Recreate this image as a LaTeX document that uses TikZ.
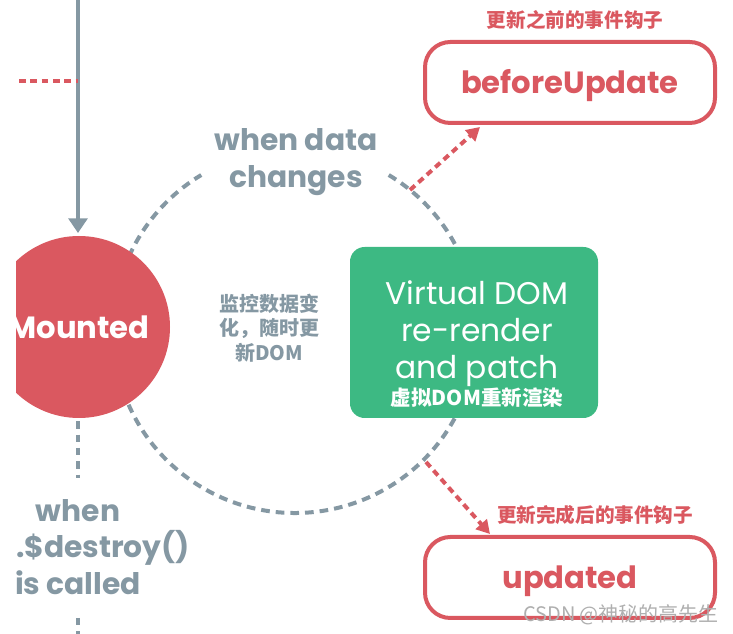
\documentclass[tikz,border=0pt]{standalone}
\usepackage{fontspec}
\setmainfont{Poppins}
\newfontfamily\cjk{Noto Sans CJK SC}
\usetikzlibrary{arrows.meta}
\definecolor{vred}{RGB}{218,88,96}
\definecolor{vgreen}{RGB}{61,185,131}
\definecolor{vgray}{RGB}{133,152,163}
\definecolor{wmark}{RGB}{175,175,175}
\begin{document}
\begin{tikzpicture}[x=0.75pt,y=-0.75pt,
  graydash/.style={draw=vgray, line width=3pt, dash pattern=on 6.5pt off 4.5pt},
  reddash/.style={draw=vred, line width=3pt, dash pattern=on 5pt off 3.5pt},
  redarrow/.style={reddash, -{Triangle[length=10pt,width=11pt]}},
  hookbox/.style={draw=vred, line width=3pt, rounded corners=19pt, fill=white,
    minimum width=217.5pt, minimum height=60.75pt, inner sep=0pt, text=vred,
    text height=19pt, text depth=2.5pt,
    font=\fontsize{23}{28}\selectfont\bfseries},
  hooklabel/.style={text=vred, font=\cjk\bfseries\fontsize{14.7}{18}\selectfont, inner sep=0pt},
  graytext/.style={text=vgray, font=\bfseries\fontsize{22.3}{27.5}\selectfont, align=center, inner sep=0pt},
]
\useasboundingbox (0,0) rectangle (733,634);
\begin{scope}
\clip (16,0) rectangle (733,634);
% dashed update cycle
\draw[graydash] (295,331) ++(-59:182) arc[start angle=-59, end angle=239, radius=182];
\coordinate (c1) at (410,190);
\coordinate (c2) at (426,462);
% nodes
\node[circle, fill=vred, minimum size=136.5pt, inner sep=0pt, text=white,
  font=\fontsize{23}{28}\selectfont\bfseries] (mounted) at (79,327) {Mounted};
\node[fill=vgreen, rounded corners=11pt, minimum width=186pt, minimum height=128.25pt, inner sep=0pt] (vdom) at (474,332.5) {};
\node[text=white, font=\fontsize{23.5}{27.75}\selectfont, align=center, inner sep=0pt] (vtext) at (477,334) {Virtual DOM\\re-render\\and patch};
\node[text=white, font=\cjk\bfseries\fontsize{15.4}{18}\selectfont, inner sep=0pt] (vcn) at (477,398) {虚拟DOM重新渲染};
\node[graytext] (when) at (296,162) {when data\\changes};
\node[text=vgray, font=\cjk\bfseries\fontsize{15}{18.4}\selectfont, align=center, inner sep=0pt] (monitor) at (269,328) {监控数据变\\化，随时更\\新DOM};
\node[graytext] (destroy) at (78,547) {when\\vm.\$destroy()\\is called};
\node[hookbox] (bu) at (570,82.5) {beforeUpdate};
\node[hooklabel] (bulabel) at (575,20) {更新之前的事件钩子};
\node[hookbox] (up) at (570,577.5) {updated};
\node[hooklabel] (uplabel) at (595,515) {更新完成后的事件钩子};
\node[text=wmark, font=\cjk\fontsize{15}{18}\selectfont, inner sep=0pt] (wm) at (621,615) {CSDN @神秘的高先生};
% connectors
\coordinate (top) at (78,0);
\draw[vgray, line width=3pt, -{Triangle[length=11pt,width=14pt]}, shorten >=2pt] (top) -- (top |- mounted.north);
\coordinate (r1) at (19,81);
\draw[reddash] (r1) -- (r1 -| top);
\coordinate (d1) at (78,478);
\coordinate (d2) at (78,618);
\coordinate (d3) at (78,640);
\draw[graydash, dash pattern=on 5.5pt off 4.5pt] (mounted.south -| top) ++(0,3) -- (d1);
\draw[graydash, dash pattern=on 5.5pt off 4.5pt] (d2) -- (d3);
\coordinate (butip) at (480,127);
\coordinate (uptip) at (490,534);
\draw[redarrow] (c1) -- (butip);
\draw[redarrow] (c2) -- (uptip);
\end{scope}
\end{tikzpicture}
\end{document}
